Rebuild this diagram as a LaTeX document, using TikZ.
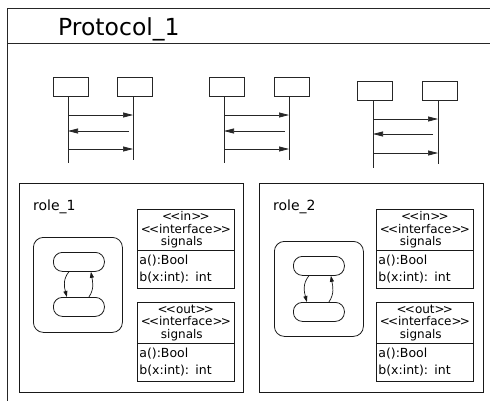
\documentclass[tikz,border=0pt]{standalone}
\usepackage{fontspec}
\setmainfont{DejaVu Sans}[Ligatures=TeXOff]
\usetikzlibrary{arrows.meta}
\newcommand\dlt{<\kern-1.8pt<}
\newcommand\dgt{>\kern-1.8pt>}
\begin{document}
\begin{tikzpicture}[x=1pt,y=-1pt,
  every node/.style={inner sep=0pt},
  frameline/.style={line width=0.9pt, draw=black!85},
  lifehead/.style={draw=black!85, line width=0.8pt, minimum width=35pt, minimum height=19pt, anchor=north west},
  lline/.style={line width=0.7pt, draw=black!85},
  msg/.style={line width=0.7pt, draw=black!85, -{Triangle[length=10pt,width=5pt]}},
  rolebox/.style={draw=black!90, line width=0.8pt, anchor=north west, minimum width=224pt, minimum height=209pt},
  rolename/.style={anchor=base west, font=\fontsize{14}{16}\selectfont},
  ifhead/.style={draw=black!90, line width=0.7pt, anchor=north west, minimum width=97pt, minimum height=41pt, align=center, font=\fontsize{12}{12.6}\selectfont},
  ifbody/.style={draw=black!90, line width=0.7pt, anchor=north west, minimum width=97pt, minimum height=38pt, text width=93pt, align=left, font=\fontsize{12.5}{17}\selectfont},
  smbox/.style={draw=black!90, line width=0.8pt, rounded corners=10pt, anchor=north west, minimum width=89pt, minimum height=95pt},
  state/.style={draw=black!90, line width=0.8pt, rounded corners=9pt, anchor=north west, minimum width=51pt, minimum height=19pt},
  trans/.style={line width=0.7pt, draw=black!90, -{Triangle[length=6pt,width=4pt]}}
]
\useasboundingbox (0,0) rectangle (490,400);

% outer frame
\coordinate (fbl) at (7,401);
\coordinate (ftl) at (7,8);
\coordinate (ftr) at (491,8);
\coordinate (fhl) at (7,43);
\coordinate (fhr) at (491,43);
\draw[frameline] (fbl) -- (ftl) -- (ftr);
\draw[frameline] (fhl) -- (fhr);
\node[anchor=base west, font=\fontsize{23.5}{26}\selectfont] (title) at (58,35) {Protocol\_1};

% message rows
\coordinate (m11) at (0,115);
\coordinate (m12) at (0,131);
\coordinate (m13) at (0,149);
\coordinate (m31) at (0,119);
\coordinate (m32) at (0,134);
\coordinate (m33) at (0,153);

% sequence 1
\node[lifehead] (g1a) at (53,77) {};
\node[lifehead] (g1b) at (117,77) {};
\coordinate (g1ae) at (68,163);
\coordinate (g1be) at (133,160);
\draw[lline] (g1a.south -| g1ae) -- (g1ae);
\draw[lline] (g1b.south -| g1be) -- (g1be);
\draw[msg] (g1ae |- m11) -- (g1be |- m11);
\draw[msg] ([xshift=-4pt]g1be |- m12) -- (g1ae |- m12);
\draw[msg] (g1ae |- m13) -- (g1be |- m13);

% sequence 2
\node[lifehead] (g2a) at (209,77) {};
\node[lifehead] (g2b) at (274,77) {};
\coordinate (g2ae) at (224,163);
\coordinate (g2be) at (289,160);
\draw[lline] (g2a.south -| g2ae) -- (g2ae);
\draw[lline] (g2b.south -| g2be) -- (g2be);
\draw[msg] (g2ae |- m11) -- (g2be |- m11);
\draw[msg] ([xshift=-4pt]g2be |- m12) -- (g2ae |- m12);
\draw[msg] (g2ae |- m13) -- (g2be |- m13);

% sequence 3
\node[lifehead] (g3a) at (357,81) {};
\node[lifehead] (g3b) at (422,81) {};
\coordinate (g3ae) at (373,168);
\coordinate (g3be) at (438,164);
\draw[lline] (g3a.south -| g3ae) -- (g3ae);
\draw[lline] (g3b.south -| g3be) -- (g3be);
\draw[msg] (g3ae |- m31) -- (g3be |- m31);
\draw[msg] ([xshift=-5pt]g3be |- m32) -- (g3ae |- m32);
\draw[msg] (g3ae |- m33) -- (g3be |- m33);

% role 1
\node[rolebox] (r1) at (19,183) {};
\node[rolename] (r1n) at (33,210) {role\_1};
\node[smbox] (sm1) at (33,237) {};
\node[state] (s1a) at (53,252) {};
\node[state] (s1b) at (53,297) {};
\draw[trans] ([xshift=-10pt]s1a.south) to[out=230,in=105] ([xshift=-12pt]s1b.north);
\draw[trans] ([xshift=10pt]s1b.north) to[out=55,in=-80] ([xshift=12pt]s1a.south);
\node[ifhead] (i1h) at (137,209) {\dlt in\dgt\\\dlt interface\dgt\\signals\hspace*{8pt}};
\node[ifbody] (i1b) at (137,250) {a():Bool\\b(x:int): int};
\node[ifhead] (o1h) at (137,302) {\dlt out\dgt\\\dlt interface\dgt\\signals\hspace*{8pt}};
\node[ifbody] (o1b) at (137,343) {a():Bool\\b(x:int): int};

% role 2
\node[rolebox] (r2) at (259,183) {};
\node[rolename] (r2n) at (273,210) {role\_2};
\node[smbox] (sm2) at (274,241) {};
\node[state] (s2a) at (293,256) {};
\node[state] (s2b) at (293,302) {};
\draw[trans] ([xshift=-10pt]s2a.south) to[out=230,in=105] ([xshift=-12pt]s2b.north);
\draw[trans] ([xshift=10pt]s2b.north) to[out=55,in=-80] ([xshift=12pt]s2a.south);
\node[ifhead] (i2h) at (376,209) {\dlt in\dgt\\\dlt interface\dgt\\signals\hspace*{8pt}};
\node[ifbody] (i2b) at (376,250) {a():Bool\\b(x:int): int};
\node[ifhead] (o2h) at (376,302) {\dlt out\dgt\\\dlt interface\dgt\\signals\hspace*{8pt}};
\node[ifbody] (o2b) at (376,343) {a():Bool\\b(x:int): int};
\end{tikzpicture}
\end{document}
